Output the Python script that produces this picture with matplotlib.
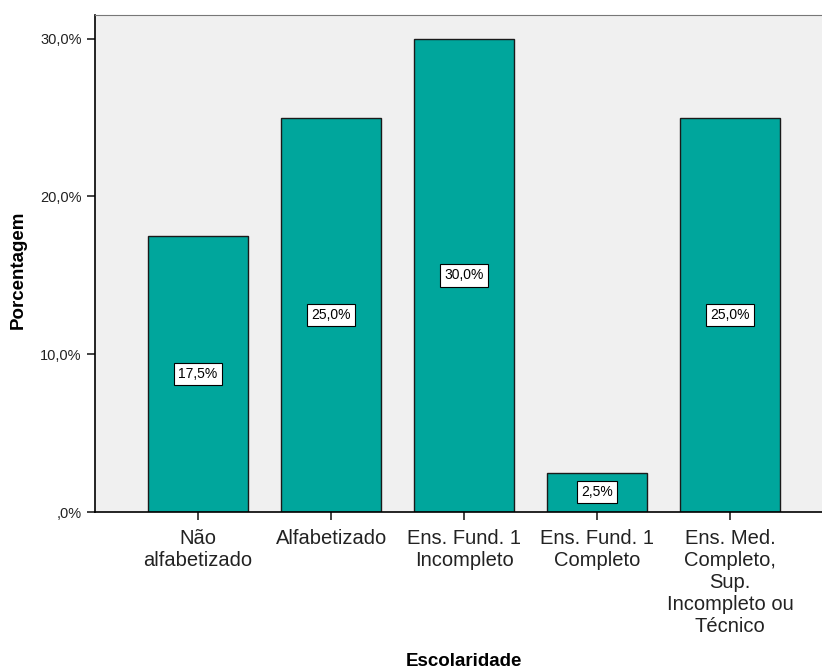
import matplotlib.pyplot as plt
from matplotlib.ticker import FuncFormatter

categories = ["Não\nalfabetizado", "Alfabetizado", "Ens. Fund. 1\nIncompleto",
              "Ens. Fund. 1\nCompleto", "Ens. Med.\nCompleto,\nSup.\nIncompleto ou\nTécnico"]
percent = [17.5, 25.0, 30.0, 2.5, 25.0]
yticks = [0, 10, 20, 30]


def pct(v, pos=None):
    s = ("%.1f%%" % v).replace(".", ",")
    return s[1:] if s.startswith("0") else s


fig = plt.figure(figsize=(8.22, 6.7), dpi=100)
ax = fig.add_axes([95 / 822, 1 - 512 / 670, 1 - 95 / 822, (512 - 15) / 670])
ax.set_facecolor("#f0f0f0")

x = range(len(categories))
ax.bar(x, percent, width=0.75, color="#00a69c", edgecolor="#1a1a1a", linewidth=1.0, zorder=2)

for xi, v in zip(x, percent):
    ax.text(xi, v / 2, pct(v), ha="center", va="center",
            fontsize=10, family="Liberation Sans", zorder=3,
            bbox=dict(boxstyle="square,pad=0.3", facecolor="white", edgecolor="black", linewidth=0.8))

ax.set_xlim(-0.775, 4.69)
ax.set_ylim(0, 31.5)
ax.set_yticks(yticks)
ax.yaxis.set_major_formatter(FuncFormatter(pct))
ax.set_xticks(list(x))
ax.set_xticklabels(categories, fontsize=14.5, family="Liberation Sans", linespacing=1.21, color="#222222")
for lab in ax.get_yticklabels():
    lab.set_fontsize(10.5)
    lab.set_family("Liberation Sans")
ax.tick_params(axis="both", length=6, width=1.2, direction="out", colors="#222222")
ax.tick_params(axis="x", pad=6)

ax.spines["right"].set_visible(False)
ax.spines["top"].set_color("#777777")
ax.spines["left"].set_linewidth(1.2)
ax.spines["bottom"].set_linewidth(1.2)

fig.text(18 / 822, 1 - 270 / 670, "Porcentagem", ha="center", va="center", rotation=90,
         fontsize=13.5, fontweight="bold", family="Liberation Sans")
fig.text(464 / 822, 1 - 661 / 670, "Escolaridade", ha="center", va="center",
         fontsize=13.5, fontweight="bold", family="Liberation Sans")

fig.savefig("out.png", dpi=100)
